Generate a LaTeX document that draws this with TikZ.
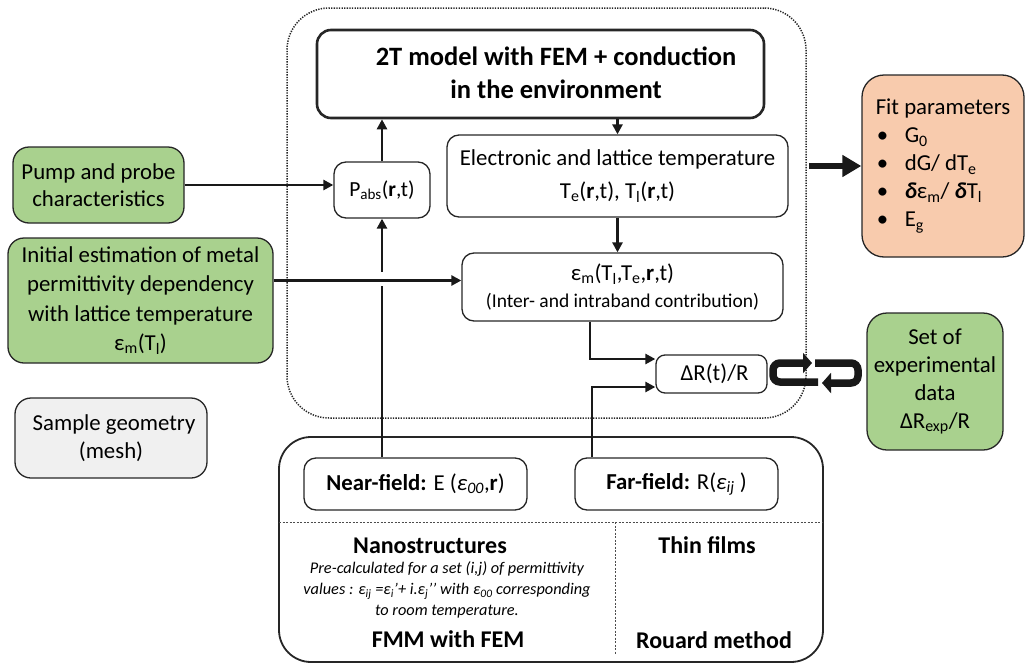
\documentclass[tikz,border=0pt]{standalone}
\usepackage{fontspec}
\setmainfont{Carlito}
\usetikzlibrary{arrows.meta}
\definecolor{gfill}{HTML}{A9D18E}
\definecolor{ofill}{HTML}{F8CBAD}
\definecolor{sfill}{HTML}{F0F0F0}
\definecolor{bord}{HTML}{262626}
\newcommand\fsz[2]{\fontsize{#1}{#2}\selectfont}
\tikzset{
  base/.style={draw=bord, line width=1.3pt, rounded corners=12pt, align=center, inner sep=0pt, font=\fsz{22.8}{28}},
  greenbox/.style={base, fill=gfill, rounded corners=16pt},
  modelbox/.style={draw=bord, line width=2.6pt, rounded corners=14pt, inner sep=0pt},
  envbox/.style={draw=bord, line width=1.5pt, dash pattern=on 1.3pt off 1.3pt, rounded corners=42pt, inner sep=0pt},
  botbox/.style={draw=bord, line width=1.8pt, rounded corners=32pt, inner sep=0pt},
  arr/.style={draw=black!90, line width=2.8pt, -{Triangle[length=10pt,width=10pt]}},
  bigarr/.style={draw=black!90, line width=6.5pt, -{Triangle[length=19pt,width=21pt]}},
  curl/.style={draw=black!90, line width=7.5pt, rounded corners=7pt, -{Triangle[length=9pt,width=20pt]}},
  sep/.style={draw=black!70, line width=0.9pt, dash pattern=on 2pt off 1.5pt},
}
\begin{document}
\begin{tikzpicture}[x=1pt,y=-1pt]
\useasboundingbox (0,0) rectangle (1026,664);

% environment (dotted)
\node[envbox, minimum width=519pt, minimum height=410pt] (env) at (546.5,213) {};

% 2T model
\node[modelbox, minimum width=447pt, minimum height=88pt] (model) at (540.5,74) {};
\node[inner sep=0pt, align=center, font=\fsz{26.5}{33}\bfseries] (modeltxt) at (556,73) {2T model with FEM + conduction\\in the environment};

\node[base, minimum width=96pt, minimum height=56pt, font=\fsz{21.5}{26}] (pabs) at (382,190) {P\textsubscript{abs}(\textbf{r},t)};
\node[base, minimum width=341pt, minimum height=82pt, font=\fsz{22.8}{33}] (elec) at (617.5,176) {Electronic and lattice temperature\\T\textsubscript{e}(\textbf{r},t), T\textsubscript{l}(\textbf{r},t)};
\node[base, minimum width=321pt, minimum height=68pt, font=\fsz{22.8}{27}] (eps) at (622.5,287) {ε\textsubscript{m}(T\textsubscript{l},T\textsubscript{e},\textbf{r},t)\\{\fsz{19.5}{22}(Inter- and intraband contribution)}};
\node[base, minimum width=111pt, minimum height=38pt, rounded corners=9pt] (dR) at (711.5,374) {\hspace*{6pt}ΔR(t)/R};

\node[greenbox, minimum width=171pt, minimum height=76pt, font=\fsz{22.8}{27.5}] (pump) at (98.5,185) {Pump and probe\\characteristics};
\node[greenbox, minimum width=265pt, minimum height=125pt, font=\fsz{22.8}{29.5}] (init) at (140.5,300.5) {Initial estimation of metal\\permittivity dependency\\with lattice temperature\\ε\textsubscript{m}(T\textsubscript{l})};
\node[base, fill=sfill, minimum width=192pt, minimum height=80pt, rounded corners=16pt] (sample) at (111,438) {\hspace*{6pt}Sample geometry\\(mesh)};

\node[base, fill=ofill, minimum width=162pt, minimum height=182pt, rounded corners=22pt, align=left] (fit) at (943,166) {Fit parameters\\
\makebox[29pt][l]{\hspace*{1pt}\textbullet}G\textsubscript{0}\\
\makebox[29pt][l]{\hspace*{1pt}\textbullet}dG/ dT\textsubscript{e}\\
\makebox[29pt][l]{\hspace*{1pt}\textbullet}\textbf{\textit{δ}}ε\textsubscript{m}/ \textbf{\textit{δ}}T\textsubscript{l}\\
\makebox[29pt][l]{\hspace*{1pt}\textbullet}E\textsubscript{g}};

\node[greenbox, minimum width=136pt, minimum height=137pt, rounded corners=20pt] (exp) at (935,381.5) {Set of\\experimental\\data\\ΔR\textsubscript{exp}/R};

% bottom box
\node[botbox, minimum width=544pt, minimum height=225pt] (bot) at (551,549.5) {};
\node[base, minimum width=223pt, minimum height=52pt] (near) at (415.5,484) {\textbf{Near-field:} E (\textit{ε}\textsubscript{\textit{00}},\textbf{r})};
\node[base, minimum width=203pt, minimum height=52pt] (far) at (676.5,484) {\textbf{Far-field:} R(\textit{ε}\textsubscript{\textit{ij}} )};
\coordinate (hl) at (279,522);
\coordinate (hr) at (823,522);
\coordinate (vt) at (615,522);
\coordinate (vb) at (615,655);
\draw[sep] (hl) -- (hr);
\draw[sep] (vt) -- (vb);
\node[font=\fsz{24}{28}\bfseries, inner sep=0pt] (nano) at (430,546) {Nanostructures};
\node[font=\fsz{16.3}{21}\itshape, inner sep=0pt, align=center] (pre) at (447,590) {Pre-calculated for a set (i,j) of permittivity\\values : ε\textsubscript{ij} =ε\textsubscript{i}’+ i.ε\textsubscript{j}’’ with ε\textsubscript{00} corresponding\\to room temperature.};
\node[font=\fsz{24}{28}\bfseries, inner sep=0pt] (fmm) at (448,639) {FMM with FEM};
\node[font=\fsz{24}{28}\bfseries, inner sep=0pt] (thin) at (707,545) {Thin films};
\node[font=\fsz{24}{28}\bfseries, inner sep=0pt] (rouard) at (714,640) {Rouard method};

% connectors
\draw[arr] (pump.east) -- (pump.east -| pabs.west);
\draw[arr] (pabs.south |- near.north) -- (pabs.south);
\fill[white] ([xshift=-5pt]pabs.south |- 0,272) rectangle ([xshift=5pt]pabs.south |- 0,286);
\draw[arr] ([yshift=20pt]init.east) -- ([yshift=20pt]init.east -| eps.west);
\draw[arr] (pabs.north) -- (pabs.north |- model.south);
\draw[arr] (elec.north |- model.south) -- (elec.north);
\draw[arr] (elec.south) -- (elec.south |- eps.north);
\coordinate (ca) at (590,0);
\coordinate (cb) at (592,0);
\draw[arr, rounded corners=0pt] (eps.south -| ca) |- ([yshift=15pt]dR.west);
\draw[arr, rounded corners=0pt] (far.north -| cb) |- ([yshift=-13pt]dR.west);
\draw[bigarr] ([xshift=2pt]env.east |- fit.west) -- (fit.west);

% exchange arrows
\coordinate (l1) at (818,382);
\coordinate (l2) at (773,382);
\coordinate (l3) at (773,363);
\coordinate (l4) at (812,363);
\coordinate (r1) at (815,363);
\coordinate (r2) at (858,363);
\coordinate (r3) at (858,383);
\coordinate (r4) at (822,383);
\draw[curl] (l1) -- (l2) -- (l3) -- (l4);
\draw[curl] (r1) -- (r2) -- (r3) -- (r4);
\end{tikzpicture}
\end{document}
